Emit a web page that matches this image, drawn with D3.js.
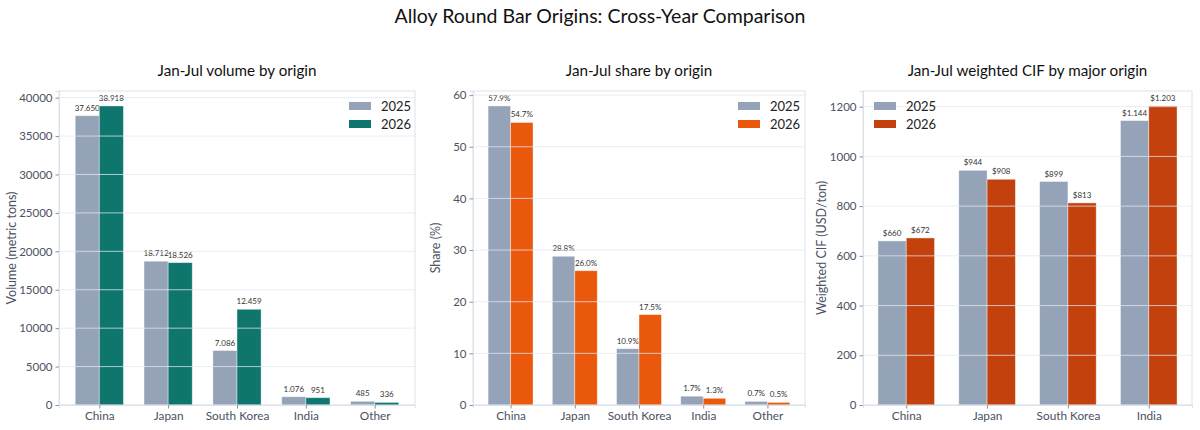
<!DOCTYPE html>
<html><head><meta charset="utf-8">
<script src="https://cdn.jsdelivr.net/npm/d3@7"></script>
<style>
body{margin:0;background:#fff;}
svg text{font-family:"Lato","Noto Sans",sans-serif;}
</style></head>
<body><svg id="c" width="1200" height="430"></svg>
<script>
const title = "Alloy Round Bar Origins: Cross-Year Comparison";
const years = ["2025","2026"];
const originsAll = ["China","Japan","South Korea","India","Other"];
const originsMajor = ["China","Japan","South Korea","India"];
const volume2025 = [37650,18712,7086,1076,485];
const volume2026 = [38918,18526,12459,951,336];
const share2025 = [57.9,28.8,10.9,1.7,0.7];
const share2026 = [54.7,26.0,17.5,1.3,0.5];
const cif2025 = [660,944,899,1144];
const cif2026 = [672,908,813,1203];
const volumeTicks = [0,5000,10000,15000,20000,25000,30000,35000,40000];
const shareTicks = [0,10,20,30,40,50,60];
const cifTicks = [0,200,400,600,800,1000,1200];

const svg = d3.select("#c");
const thou = v => d3.format(",")(v).replace(/,/g,".");

svg.append("text").attr("x",600).attr("y",23).attr("text-anchor","middle")
  .attr("font-size",19.5).attr("fill","#111").text(title);

function panel(o){
  const g = svg.append("g");
  const n = o.cats.length;
  const bw = 0.35;
  const m = bw + 0.05*(n-1+2*bw);
  const x = d3.scaleLinear().domain([-m, n-1+m]).range([o.left,o.right]);
  const ymax = d3.max([...o.a,...o.b])*1.05;
  const y = d3.scaleLinear().domain([0,ymax]).range([405,91]);
  const unit = x(1)-x(0);
  g.append("rect").attr("x",o.left).attr("y",91).attr("width",o.right-o.left).attr("height",314)
    .attr("fill","none").attr("stroke","#dde2ea").attr("stroke-width",1);
  const series = [{v:o.a,c:"#94a3b8",off:-bw/2},{v:o.b,c:o.color,off:bw/2}];
  series.forEach(s=>{
    g.selectAll(null).data(s.v).enter().append("rect")
      .attr("x",(d,i)=>x(i+s.off-bw/2)).attr("width",unit*bw)
      .attr("y",d=>y(d)).attr("height",d=>y(0)-y(d))
      .attr("fill",s.c).attr("stroke","#fff").attr("stroke-opacity",0.5).attr("stroke-width",0.8);
    g.selectAll(null).data(s.v).enter().append("text")
      .attr("x",(d,i)=>x(i+s.off)).attr("y",d=>y(d)-5)
      .attr("text-anchor","middle").attr("font-size",8).attr("fill","#333")
      .text(o.fmt);
  });
  g.selectAll(null).data(o.ticks).enter().append("line")
    .attr("x1",o.left).attr("x2",o.right).attr("y1",d=>y(d)).attr("y2",d=>y(d))
    .attr("stroke","#e2e8f0").attr("stroke-opacity",0.75).attr("stroke-width",1);
  const ya = g.append("g").attr("transform",`translate(${o.left},0)`)
    .call(d3.axisLeft(y).tickValues(o.ticks).tickSize(3.5).tickPadding(3).tickFormat(d3.format("d")));
  ya.select(".domain").attr("stroke","#dde2ea");
  ya.selectAll(".tick line").attr("stroke","#8a93a3");
  ya.selectAll(".tick text").attr("font-size",11.5).attr("fill","#4b5262").attr("font-family","Lato");
  const xa = g.append("g").attr("transform",`translate(0,405)`)
    .call(d3.axisBottom(x).tickValues(d3.range(n)).tickSize(3.5).tickPadding(3).tickFormat(i=>o.cats[i]));
  xa.select(".domain").attr("stroke","#dde2ea");
  xa.selectAll(".tick line").attr("stroke","#8a93a3");
  xa.selectAll(".tick text").attr("font-size",11.8).attr("fill","#4b5262").attr("font-family","Lato");
  g.append("text").attr("x",(o.left+o.right)/2).attr("y",76).attr("text-anchor","middle")
    .attr("font-size",15.2).attr("fill","#111").text(o.title);
  g.append("text").attr("transform",`translate(${o.ylx},${248}) rotate(-90)`).attr("text-anchor","middle")
    .attr("font-size",12.5).attr("fill","#4b5262").text(o.ylabel);
  const lg = g.append("g");
  [["#94a3b8",years[0]],[o.color,years[1]]].forEach((d,i)=>{
    lg.append("rect").attr("x",o.lx).attr("y",102+i*18).attr("width",22).attr("height",8).attr("fill",d[0]);
    lg.append("text").attr("x",o.lx+32).attr("y",110.5+i*18).attr("font-size",13).attr("fill","#222").text(d[1]);
  });
}

panel({cats:originsAll,a:volume2025,b:volume2026,color:"#0f766e",left:59,right:415,ticks:volumeTicks,
  fmt:thou,title:"Jan-Jul volume by origin",ylabel:"Volume (metric tons)",ylx:16,lx:349});
panel({cats:originsAll,a:share2025,b:share2026,color:"#ea580c",left:473,right:805,ticks:shareTicks,
  fmt:v=>v.toFixed(1)+"%",title:"Jan-Jul share by origin",ylabel:"Share (%)",ylx:440,lx:738});
panel({cats:originsMajor,a:cif2025,b:cif2026,color:"#c2410c",left:863,right:1192,ticks:cifTicks,
  fmt:v=>"$"+thou(v),title:"Jan-Jul weighted CIF by major origin",ylabel:"Weighted CIF (USD/ton)",ylx:826,lx:874});
</script></body></html>
